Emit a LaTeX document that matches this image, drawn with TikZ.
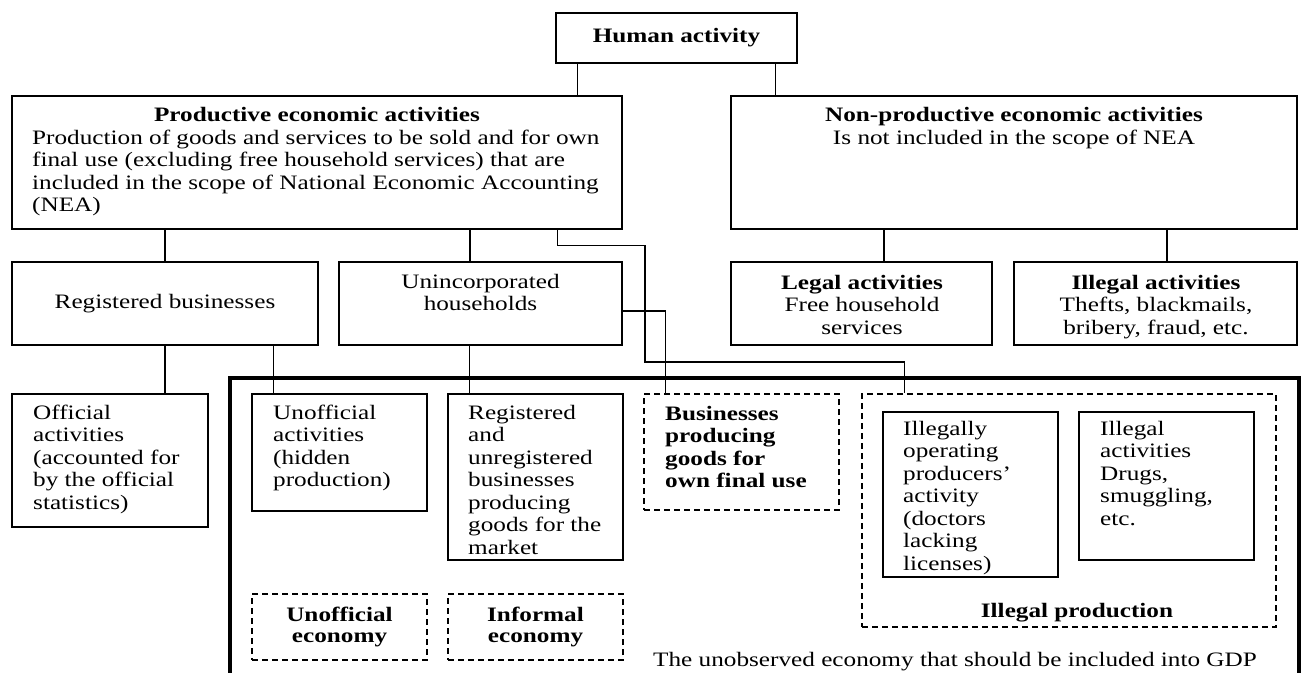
\documentclass[tikz,border=0pt]{standalone}
\usepackage{fontspec}
\setmainfont[FakeStretch=1.23]{Liberation Serif}
\newcommand\bodyfont{\fontsize{20.5}{22.5}\selectfont}
\tikzset{
  box/.style={draw, line width=1.2pt, inner sep=0pt, font=\bodyfont},
  dbox/.style={draw, line width=1.2pt, dash pattern=on 6pt off 4pt, inner sep=0pt, font=\bodyfont},
  conn/.style={line width=1.2pt},
  frame/.style={line width=4pt},
  lt/.style={anchor=base west, align=left, inner sep=0pt, font=\bodyfont},
  ct/.style={anchor=base, align=center, inner sep=0pt, font=\bodyfont},
}
\begin{document}
\begin{tikzpicture}[x=1pt,y=-1pt]
\useasboundingbox (0,0) rectangle (1305,672);
% thick frame (open at the bottom)
\draw[frame] (230,676) -- (230,378) -- (1299,378) -- (1299,676);
% boxes
\node[box, minimum width=241, minimum height=50, font=\bodyfont\bfseries] (human) at (676.5,38) {Human activity};
\node[box, minimum width=610, minimum height=133] (prod) at (317,162.5) {};
\node[box, minimum width=566, minimum height=133] (nonprod) at (1014,162.5) {};
\node[box, minimum width=306, minimum height=83] (reg) at (165,303.5) {Registered businesses};
\node[box, minimum width=283, minimum height=83] (uninc) at (480.5,303.5) {};
\node[box, minimum width=261, minimum height=83] (legal) at (861.5,303.5) {};
\node[box, minimum width=283, minimum height=83] (illegal) at (1155.5,303.5) {};
\node[box, minimum width=196, minimum height=133] (official) at (110,460.5) {};
\node[box, minimum width=175, minimum height=117] (unoff) at (339.5,452.5) {};
\node[box, minimum width=175, minimum height=166] (regun) at (535.5,477) {};
\node[dbox, minimum width=195, minimum height=116] (busi) at (741.5,452) {};
\node[dbox, minimum width=414, minimum height=233] (illprod) at (1069,510.5) {};
\node[box, minimum width=175, minimum height=165] (illop) at (970.5,494.5) {};
\node[box, minimum width=175, minimum height=148] (illact) at (1166.5,486) {};
\node[dbox, minimum width=175, minimum height=66, align=center, font=\fontsize{20.5}{21}\selectfont\bfseries] (unoffeco) at (339.5,627) {Unofficial\\economy};
\node[dbox, minimum width=175, minimum height=66, align=center, font=\fontsize{20.5}{21}\selectfont\bfseries] (infeco) at (535.5,627) {Informal\\economy};
% texts (multi-line nodes are placed by the baseline of their last line)
\node[ct, font=\bodyfont\bfseries] (prodt) at (317,121) {Productive economic activities};
\node[lt] (prodb) at (32,211.5) {Production of goods and services to be sold and for own\\final use (excluding free household services) that are\\included in the scope of National Economic Accounting\\(NEA)};
\node[ct, font=\bodyfont\bfseries] (nonprodt) at (1014,121) {Non-productive economic activities};
\node[ct] (nonprodb) at (1014,144) {Is not included in the scope of NEA};
\node[ct] (uninct) at (480.5,310.5) {Unincorporated\\households};
\node[ct] (legalt) at (862,334) {\textbf{Legal activities}\\Free household\\services};
\node[ct] (illegalt) at (1156,334) {\textbf{Illegal activities}\\Thefts, blackmails,\\bribery, fraud, etc.};
\node[lt] (officialt) at (33,509) {Official\\activities\\(accounted for\\by the official\\statistics)};
\node[lt] (unofft) at (273,486.5) {Unofficial\\activities\\(hidden\\production)};
\node[lt] (regunt) at (468,554) {Registered\\and\\unregistered\\businesses\\producing\\goods for the\\market};
\node[lt, font=\bodyfont\bfseries] (busit) at (665,487.5) {Businesses\\producing\\goods for\\own final use};
\node[lt] (illopt) at (903,570) {Illegally\\operating\\producers'\\activity\\(doctors\\lacking\\licenses)};
\node[lt] (illactt) at (1100,525) {Illegal\\activities\\Drugs,\\smuggling,\\etc.};
\node[ct, font=\bodyfont\bfseries] (illprodt) at (1077,617) {Illegal production};
\node[lt] (gdp) at (653,666) {The unobserved economy that should be included into GDP};
% connector attach points
\path ([xshift=22pt]human.south west) coordinate (hl)
      ([xshift=-22pt]human.south east) coordinate (hr)
      ([xshift=-10.5pt]uninc.north) coordinate (ui)
      ([xshift=22.5pt]legal.north) coordinate (li)
      ([xshift=11.5pt]illegal.north) coordinate (ii)
      ([xshift=22pt]unoff.north west) coordinate (uo)
      ([xshift=22pt]regun.north west) coordinate (ru);
% connectors
\draw[conn] (hl) -- (hl |- prod.north);
\draw[conn] (hr) -- (hr |- nonprod.north);
\draw[conn] (reg.north |- prod.south) -- (reg.north);
\draw[conn] (ui |- prod.south) -- (ui);
\draw[conn] (li |- nonprod.south) -- (li);
\draw[conn] (ii |- nonprod.south) -- (ii);
\draw[conn] ([xshift=-65pt]prod.south east) -- ++(0,16) -| (645,362) -| ([xshift=43pt]illprod.north west);
\draw[conn] ([yshift=-7.5pt]uninc.east) -| ([xshift=22pt]busi.north west);
\draw[conn] (reg.south) -- (reg.south |- official.north);
\draw[conn] (uo |- reg.south) -- (uo);
\draw[conn] (ru |- uninc.south) -- (ru);
\end{tikzpicture}
\end{document}
